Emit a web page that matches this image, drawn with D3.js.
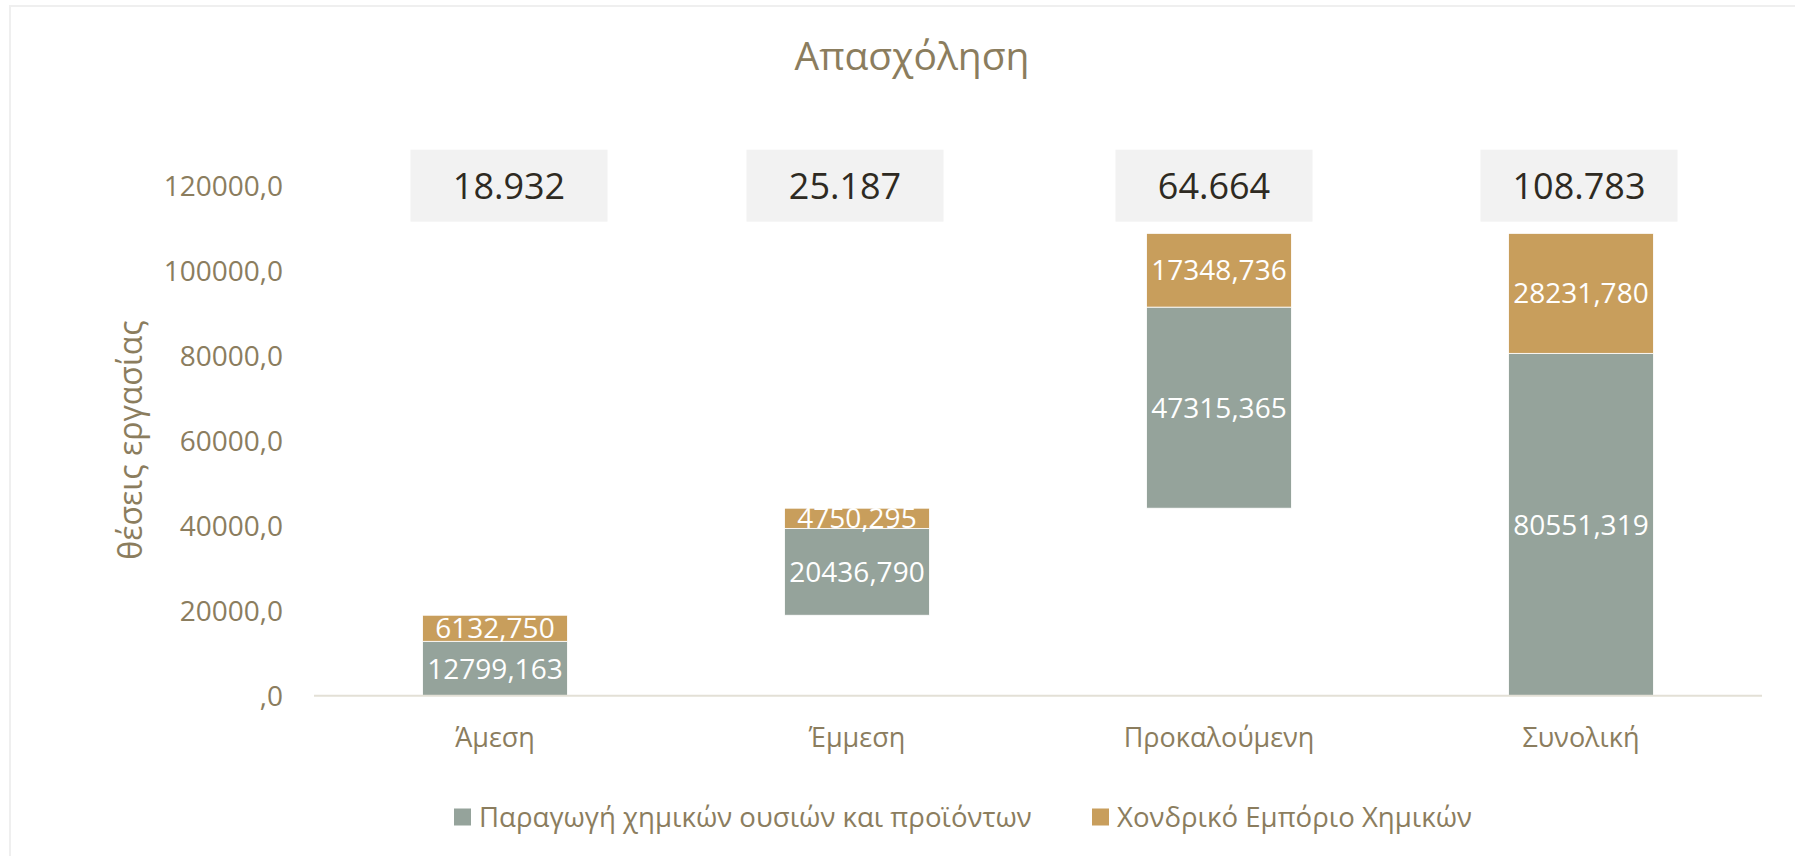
<!DOCTYPE html>
<html>
<head>
<meta charset="utf-8">
<script src="https://cdn.jsdelivr.net/npm/d3@7/dist/d3.min.js"></script>
<style>
  html, body { margin: 0; padding: 0; background: #fff; }
  svg text { font-family: "Open Sans", "Noto Sans", sans-serif; }
</style>
</head>
<body>
<svg id="chart" width="1795" height="856"></svg>
<script>
// Employment impact, stacked as a cascade: direct, indirect, induced, total
const categories = ["Άμεση", "Έμμεση", "Προκαλούμενη", "Συνολική"];
const seriesNames = ["Παραγωγή χημικών ουσιών και προϊόντων", "Χονδρικό Εμπόριο Χημικών"];
const production = [12799.163, 20436.790, 47315.365, 80551.319];
const wholesale  = [6132.750, 4750.295, 17348.736, 28231.780];
// Invisible base that lifts each step (cascade offset)
const baseOffset = [0, 18932, 44119, 0];
// Headline totals shown in the boxes above the bars
const totalLabels = ["18.932", "25.187", "64.664", "108.783"];
const yTicks = [0, 20000, 40000, 60000, 80000, 100000, 120000];

const colors = ["#95A39B", "#C89E5C"];
const textColor = "#8B7D5E";

// horizontal nudges of the total boxes relative to their bar centre
const boxShift = [14, -12, -5, -2];

const svg = d3.select("#chart");
const W = 1795, H = 856;

// outer frame
svg.append("rect")
  .attr("x", 10).attr("y", 6)
  .attr("width", W + 10).attr("height", H + 10)
  .attr("fill", "none").attr("stroke", "#EFEFEF").attr("stroke-width", 2);

const plot = { left: 314, right: 1762, top: 185.7, bottom: 695.7 };

const x = d3.scaleBand()
  .domain(categories)
  .range([plot.left, plot.right])
  .paddingInner(0.6).paddingOuter(0.3);

const y = d3.scaleLinear()
  .domain([0, 120000])
  .range([plot.bottom, plot.top]);

// title
svg.append("text")
  .attr("x", 912).attr("y", 70)
  .attr("text-anchor", "middle")
  .attr("font-size", 39)
  .attr("fill", textColor)
  .text("Απασχόληση");

// y axis (labels only)
const yAxis = d3.axisLeft(y)
  .tickValues(yTicks)
  .tickSize(0)
  .tickPadding(0)
  .tickFormat(d => d === 0 ? ",0" : d + ",0");

const yg = svg.append("g")
  .attr("transform", `translate(283,0)`)
  .call(yAxis);
yg.select(".domain").remove();
yg.selectAll("text")
  .attr("font-size", 28)
  .attr("fill", textColor)
  .attr("dy", "0.35em");

// y axis title
svg.append("text")
  .attr("transform", `translate(142,440) rotate(-90)`)
  .attr("text-anchor", "middle")
  .attr("font-size", 32)
  .attr("fill", textColor)
  .text("θέσεις εργασίας");

// stacked segments
const stackData = categories.map((c, i) => {
  const b = baseOffset[i];
  return [
    { cat: c, y0: b, y1: b + production[i], v: production[i], s: 0 },
    { cat: c, y0: b + production[i], y1: b + production[i] + wholesale[i], v: wholesale[i], s: 1 }
  ];
}).flat();

const fmt = v => v.toFixed(3).replace(".", ",");

svg.append("g").selectAll("rect")
  .data(stackData)
  .join("rect")
  .attr("x", d => x(d.cat))
  .attr("width", x.bandwidth())
  .attr("y", d => y(d.y1))
  .attr("height", d => y(d.y0) - y(d.y1))
  .attr("fill", d => colors[d.s])
  .attr("stroke", "#FFFFFF")
  .attr("stroke-width", 0.8);

svg.append("g").selectAll("text")
  .data(stackData)
  .join("text")
  .attr("x", d => x(d.cat) + x.bandwidth() / 2)
  .attr("y", d => (y(d.y0) + y(d.y1)) / 2)
  .attr("dy", "0.36em")
  .attr("text-anchor", "middle")
  .attr("font-size", 28)
  .attr("fill", "#FFFFFF")
  .text(d => fmt(d.v));

// baseline
svg.append("line")
  .attr("x1", plot.left).attr("x2", plot.right)
  .attr("y1", y(0)).attr("y2", y(0))
  .attr("stroke", "#E3E0D6").attr("stroke-width", 2);

// category labels
svg.append("g").selectAll("text")
  .data(categories)
  .join("text")
  .attr("x", d => x(d) + x.bandwidth() / 2)
  .attr("y", 738)
  .attr("dy", "0.35em")
  .attr("text-anchor", "middle")
  .attr("font-size", 27)
  .attr("fill", textColor)
  .text(d => d);

// total boxes
const boxW = 197, boxH = 72;
const tg = svg.append("g").selectAll("g")
  .data(categories)
  .join("g")
  .attr("transform", (d, i) => `translate(${x(d) + x.bandwidth() / 2 + boxShift[i]},${y(120000)})`);
tg.append("rect")
  .attr("x", -boxW / 2).attr("y", -boxH / 2)
  .attr("width", boxW).attr("height", boxH)
  .attr("fill", "#F2F2F2");
tg.append("text")
  .attr("text-anchor", "middle")
  .attr("dy", "0.36em")
  .attr("font-size", 36)
  .attr("fill", "#2E2A22")
  .text((d, i) => totalLabels[i]);

// legend
const legendItems = [
  { name: seriesNames[0], color: colors[0], x: 454 },
  { name: seriesNames[1], color: colors[1], x: 1092 }
];
const lg = svg.append("g").selectAll("g")
  .data(legendItems)
  .join("g")
  .attr("transform", d => `translate(${d.x},817)`);
lg.append("rect")
  .attr("x", 0).attr("y", -8.5)
  .attr("width", 17).attr("height", 17)
  .attr("fill", d => d.color);
lg.append("text")
  .attr("x", 25)
  .attr("dy", "0.35em")
  .attr("font-size", 27.6)
  .attr("fill", textColor)
  .text(d => d.name);
</script>
</body>
</html>
